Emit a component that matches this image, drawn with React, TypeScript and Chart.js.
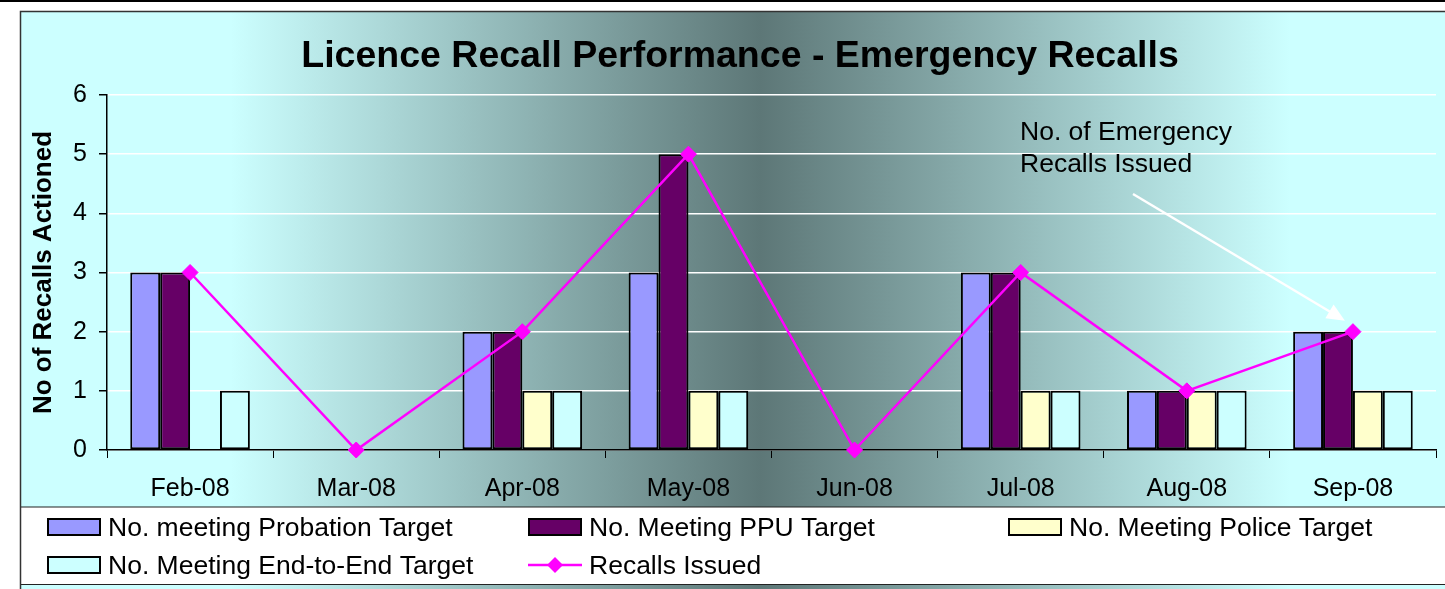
import React, { useEffect, useRef } from 'react';
import { Chart, registerables } from 'chart.js';

Chart.register(...registerables);

const FONT = "'Liberation Sans', Arial, Helvetica, sans-serif";

const TITLE = 'Licence Recall Performance - Emergency Recalls';
const Y_TITLE = 'No of Recalls Actioned';
const ANNOTATION = ['No. of Emergency', 'Recalls Issued'];

const months = ['Feb-08', 'Mar-08', 'Apr-08', 'May-08', 'Jun-08', 'Jul-08', 'Aug-08', 'Sep-08'];
const probation = [3, 0, 2, 3, 0, 3, 1, 2];
const ppu = [3, 0, 2, 5, 0, 3, 1, 2];
const police = [0, 0, 1, 1, 0, 1, 1, 1];
const endToEnd = [1, 0, 1, 1, 0, 1, 1, 1];
const recallsIssued = [3, 0, 2, 5, 0, 3, 1, 2];

const seriesLabels = [
  'No. meeting Probation Target',
  'No. Meeting PPU Target',
  'No. Meeting Police Target',
  'No. Meeting End-to-End Target',
  'Recalls Issued',
];
const barColors = ['#9999FF', '#660066', '#FFFFCC', '#CCFFFF'];
const lineColor = '#FF00FF';

const decor = {
  id: 'decor',
  beforeDraw(chart: any) {
    const ctx: CanvasRenderingContext2D = chart.ctx;
    const W = chart.width;
    const H = chart.height;
    ctx.save();
    ctx.fillStyle = '#ffffff';
    ctx.fillRect(0, 0, W, H);
    ctx.fillStyle = '#000000';
    ctx.fillRect(0, 0, W, 2);

    const g = ctx.createLinearGradient(20, 0, 1460, 0);
    g.addColorStop(0, '#CCFFFF');
    g.addColorStop(0.146, '#CCFFFF');
    g.addColorStop(0.514, '#5D7777');
    g.addColorStop(0.882, '#CCFFFF');
    g.addColorStop(1, '#CCFFFF');
    ctx.fillStyle = g;
    ctx.fillRect(20, 11, W - 20, H - 11);

    // legend box
    ctx.fillStyle = '#ffffff';
    ctx.fillRect(21, 507, W - 21, 77);
    ctx.strokeStyle = '#222222';
    ctx.lineWidth = 1.2;
    ctx.beginPath();
    ctx.moveTo(20, 507);
    ctx.lineTo(W, 507);
    ctx.moveTo(20, 584.5);
    ctx.lineTo(W, 584.5);
    ctx.stroke();

    // frame
    ctx.strokeStyle = '#333333';
    ctx.lineWidth = 1.5;
    ctx.beginPath();
    ctx.moveTo(20.5, H);
    ctx.lineTo(20.5, 11.5);
    ctx.lineTo(W, 11.5);
    ctx.stroke();

    // title
    ctx.fillStyle = '#000000';
    ctx.font = `bold 37.5px ${FONT}`;
    ctx.textAlign = 'center';
    ctx.textBaseline = 'alphabetic';
    ctx.fillText(TITLE, 740, 67);
    ctx.restore();
  },
  afterDraw(chart: any) {
    const ctx: CanvasRenderingContext2D = chart.ctx;
    ctx.save();
    // legend
    const colX = [47, 528, 1008];
    const rowY = [527, 565];
    const datasets = chart.data.datasets;
    datasets.forEach((ds: any, i: number) => {
      const col = i % 3;
      const row = Math.floor(i / 3);
      const x = colX[col];
      const y = rowY[row];
      if (ds.type === 'line') {
        ctx.strokeStyle = ds.borderColor;
        ctx.lineWidth = 2.5;
        ctx.beginPath();
        ctx.moveTo(x, y);
        ctx.lineTo(x + 54, y);
        ctx.stroke();
        ctx.fillStyle = ds.pointBackgroundColor;
        const cx = x + 27;
        const r = 8;
        ctx.beginPath();
        ctx.moveTo(cx, y - r);
        ctx.lineTo(cx + r, y);
        ctx.lineTo(cx, y + r);
        ctx.lineTo(cx - r, y);
        ctx.closePath();
        ctx.fill();
      } else {
        ctx.fillStyle = ds.backgroundColor;
        ctx.fillRect(x, y - 9, 54, 18);
        ctx.strokeStyle = '#000000';
        ctx.lineWidth = 2;
        ctx.strokeRect(x + 1, y - 8, 52, 16);
      }
      ctx.fillStyle = '#000000';
      ctx.font = `26.5px ${FONT}`;
      ctx.textAlign = 'left';
      ctx.textBaseline = 'alphabetic';
      ctx.fillText(ds.label, x + 61, y + 8.5);
    });

    // annotation
    ctx.fillStyle = '#000000';
    ctx.font = `26.5px ${FONT}`;
    ctx.textAlign = 'left';
    ctx.textBaseline = 'alphabetic';
    ctx.fillText(ANNOTATION[0], 1020, 140);
    ctx.fillText(ANNOTATION[1], 1020, 172);

    // arrow pointing at the last recalls point
    const meta = chart.getDatasetMeta(4);
    const pt = meta.data[meta.data.length - 1];
    const x1 = 1133;
    const y1 = 194;
    const x2 = pt.x - 8;
    const y2 = pt.y - 11;
    const ang = Math.atan2(y2 - y1, x2 - x1);
    ctx.strokeStyle = '#ffffff';
    ctx.fillStyle = '#ffffff';
    ctx.lineWidth = 2.5;
    ctx.beginPath();
    ctx.moveTo(x1, y1);
    ctx.lineTo(x2 - Math.cos(ang) * 10, y2 - Math.sin(ang) * 10);
    ctx.stroke();
    const L = 18;
    const Wd = 8;
    ctx.beginPath();
    ctx.moveTo(x2, y2);
    ctx.lineTo(x2 - L * Math.cos(ang) + Wd * Math.sin(ang), y2 - L * Math.sin(ang) - Wd * Math.cos(ang));
    ctx.lineTo(x2 - L * Math.cos(ang) - Wd * Math.sin(ang), y2 - L * Math.sin(ang) + Wd * Math.cos(ang));
    ctx.closePath();
    ctx.fill();
    ctx.restore();
  },
};

export default function App() {
  const ref = useRef<HTMLCanvasElement>(null);

  useEffect(() => {
    const canvas = ref.current;
    if (!canvas) return;
    const barDs = (label: string, data: number[], color: string) => ({
      type: 'bar' as const,
      label,
      data,
      backgroundColor: color,
      borderColor: '#000000',
      borderWidth: 2,
      borderSkipped: false as const,
      categoryPercentage: 0.72,
      barPercentage: 1,
      order: 1,
    });
    const chart = new Chart(canvas, {
      type: 'bar',
      data: {
        labels: months,
        datasets: [
          barDs(seriesLabels[0], probation, barColors[0]),
          barDs(seriesLabels[1], ppu, barColors[1]),
          barDs(seriesLabels[2], police, barColors[2]),
          barDs(seriesLabels[3], endToEnd, barColors[3]),
          {
            type: 'line' as const,
            label: seriesLabels[4],
            data: recallsIssued,
            borderColor: lineColor,
            backgroundColor: lineColor,
            borderWidth: 2.5,
            pointStyle: 'rectRot',
            pointRadius: 8,
            pointBackgroundColor: lineColor,
            pointBorderColor: lineColor,
            pointBorderWidth: 1,
            tension: 0,
            clip: false,
            order: 0,
          } as any,
        ],
      },
      options: {
        responsive: false,
        devicePixelRatio: 1,
        animation: false,
        layout: { padding: { left: 24, top: 95, right: 6, bottom: 82 } },
        plugins: {
          legend: { display: false },
          title: { display: false },
          tooltip: { enabled: false },
        },
        scales: {
          x: {
            grid: {
              display: true,
              drawOnChartArea: false,
              drawTicks: true,
              tickLength: 8,
              color: '#000000',
              offset: true,
            },
            border: { display: true, color: '#000000', width: 1.5 },
            ticks: {
              color: '#000000',
              font: { family: FONT, size: 25 },
              padding: 16,
              maxRotation: 0,
              autoSkip: false,
            },
            afterFit: (s: any) => {
              s.height = 57;
            },
          },
          y: {
            min: 0,
            max: 6,
            ticks: {
              stepSize: 1,
              color: '#000000',
              font: { family: FONT, size: 25 },
              padding: 12,
            },
            grid: {
              color: '#ffffff',
              lineWidth: 1.5,
              tickColor: '#000000',
              tickLength: 8,
            },
            border: { display: true, color: '#000000', width: 1.5 },
            title: {
              display: true,
              text: Y_TITLE,
              color: '#000000',
              font: { family: FONT, size: 26, weight: 'bold' },
              padding: { top: 4, bottom: 0 },
            },
            afterFit: (s: any) => {
              s.width = 83;
            },
          },
        },
      },
      plugins: [decor],
    });
    return () => chart.destroy();
  }, []);

  return (
    <div
      style={{
        position: 'fixed',
        left: 0,
        top: 0,
        width: 1445,
        height: 589,
        background: '#ffffff',
      }}
    >
      <canvas ref={ref} width={1445} height={589} style={{ display: 'block', width: 1445, height: 589 }} />
    </div>
  );
}
